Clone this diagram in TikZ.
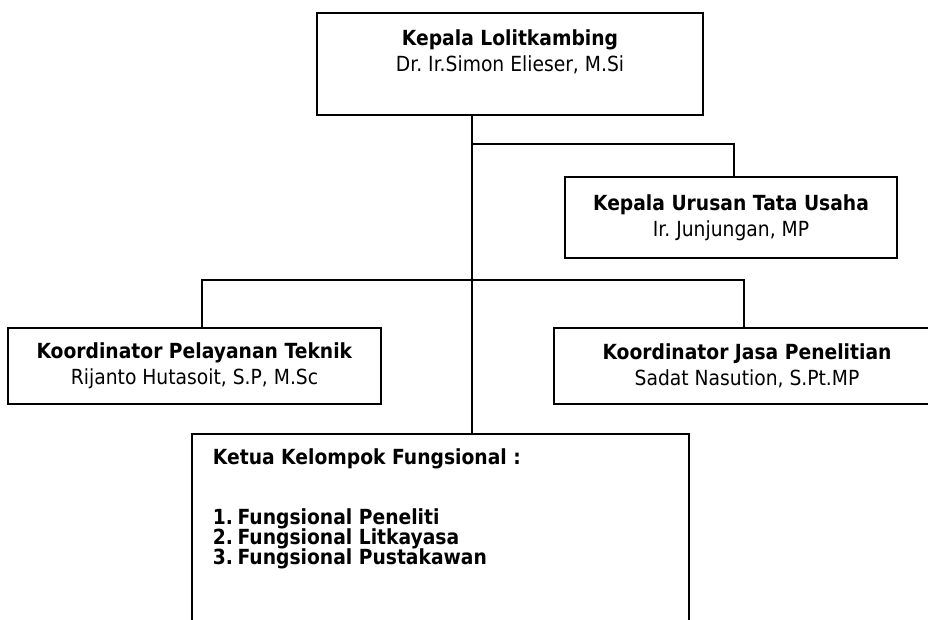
\documentclass[tikz,border=0pt]{standalone}
\usepackage{fontspec}
\setmainfont{DejaVu Sans}[FakeStretch=0.9]
\frenchspacing
\lineskiplimit=-20pt

\begin{document}
\begin{tikzpicture}
[x=0.75pt,y=-0.75pt,line width=1.4pt,
every node/.style={font=\fontsize{15.6}{19.5}\selectfont,inner sep=0pt},
box/.style={draw,rectangle,align=center}]
\useasboundingbox (0,0) rectangle (928,619);
\clip (0,0) rectangle (928,619);
\node[box,minimum width=289.5pt,minimum height=76.5pt] (kepala) at (510,64) {};
\node[anchor=north,align=center] (kepalatxt) at (510,29) {\textbf{Kepala Lolitkambing}\\Dr. Ir.Simon Elieser, M.Si};
\node[box,minimum width=249pt,minimum height=60.75pt] (tu) at (731,217.5) {\textbf{Kepala Urusan Tata Usaha}\\Ir. Junjungan, MP};
\node[box,minimum width=279.75pt,minimum height=57pt] (pelayanan) at (194.5,366) {\textbf{Koordinator Pelayanan Teknik}\\Rijanto Hutasoit, S.P, M.Sc};
\node[box,minimum width=289.5pt,minimum height=57pt] (jasa) at (747,366) {\textbf{Koordinator Jasa Penelitian}\\Sadat Nasution, S.Pt.MP};
\node[box,minimum width=372.75pt,minimum height=195pt] (fungsional) at (440.5,564) {};
\node[anchor=north west,align=left,font=\fontsize{15.6}{15}\selectfont\bfseries] (fungsionaltxt) at (212,448)
{Ketua Kelompok Fungsional :\\[30pt]
\makebox[18.5pt][l]{1.}Fungsional Peneliti\\
\makebox[18.5pt][l]{2.}Fungsional Litkayasa\\
\makebox[18.5pt][l]{3.}Fungsional Pustakawan};
\coordinate (bus1) at (472,144);
\coordinate (bus1r) at (734,144);
\coordinate (bus2l) at (202,280);
\coordinate (bus2r) at (744,280);
\draw (kepala.south -| bus1) -- (bus1 |- fungsional.north);
\draw (bus1) -- (bus1r) -- (bus1r |- tu.north);
\draw (bus2l |- pelayanan.north) -- (bus2l) -- (bus2r) -- (bus2r |- jasa.north);
\end{tikzpicture}
\end{document}
